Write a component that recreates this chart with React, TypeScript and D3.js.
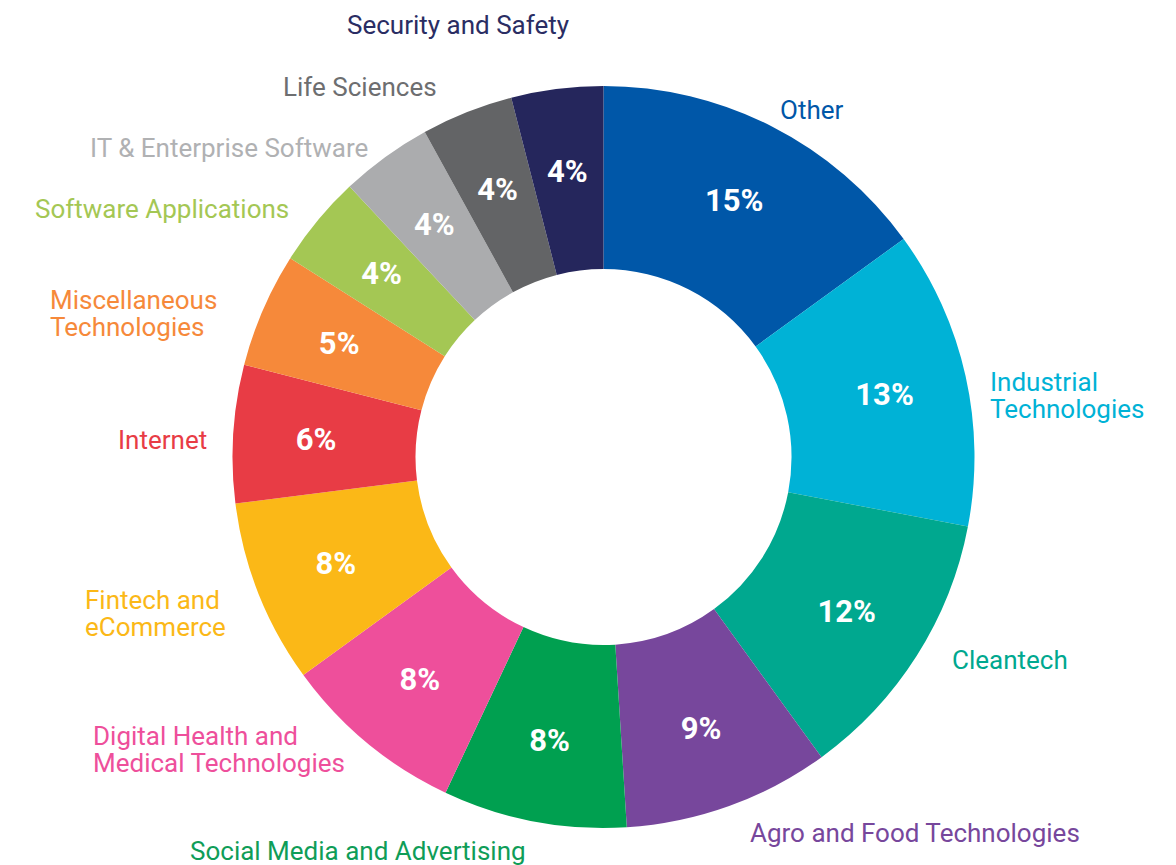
import React, { useEffect, useRef } from 'react'
import * as d3 from 'd3'

const categories = [
  'Other',
  'Industrial Technologies',
  'Cleantech',
  'Agro and Food Technologies',
  'Social Media and Advertising',
  'Digital Health and Medical Technologies',
  'Fintech and eCommerce',
  'Internet',
  'Miscellaneous Technologies',
  'Software Applications',
  'IT & Enterprise Software',
  'Life Sciences',
  'Security and Safety',
]
const shares = [15, 13, 12, 9, 8, 8, 8, 6, 5, 4, 4, 4, 4]
const pctLabels = ['15%', '13%', '12%', '9%', '8%', '8%', '8%', '6%', '5%', '4%', '4%', '4%', '4%']
const labelLines = [
  ['Other'],
  ['Industrial', 'Technologies'],
  ['Cleantech'],
  ['Agro and Food Technologies'],
  ['Social Media and Advertising'],
  ['Digital Health and', 'Medical Technologies'],
  ['Fintech and', 'eCommerce'],
  ['Internet'],
  ['Miscellaneous', 'Technologies'],
  ['Software Applications'],
  ['IT & Enterprise Software'],
  ['Life Sciences'],
  ['Security and Safety'],
]
const colors = [
  '#0057a8', '#00b2d6', '#00a88f', '#77479c', '#00a050', '#ee4f9b', '#fbb817',
  '#e83c45', '#f6893a', '#a4c754', '#abacae', '#636466', '#25265c',
]
const textColors = [
  '#0057a8', '#00b2d6', '#00a88f', '#77479c', '#0f9d58', '#ee4f9b', '#fbb817',
  '#e83c45', '#f6893a', '#a4c754', '#b0b1b3', '#6d6e70', '#2a2d63',
]
// label placement (left x, first baseline)
const labelPos: [number, number][] = [
  [780, 119], [990, 391], [952, 669], [750, 842], [190, 860], [93, 745], [85, 609],
  [118, 449], [50, 309], [35, 218], [90, 157], [283, 96], [347, 34],
]

export default function App() {
  const ref = useRef<SVGSVGElement>(null)

  useEffect(() => {
    const svg = d3.select(ref.current)
    svg.selectAll('*').remove()

    const width = 1176, height = 865
    const cx = 603.5, cy = 457
    const outerR = 371, innerR = 188

    const pie = d3.pie<number>().sort(null).value(d => d)
    const arcs = pie(shares)
    const arc = d3.arc<d3.PieArcDatum<number>>().innerRadius(innerR).outerRadius(outerR)
    const labelArc = d3.arc<d3.PieArcDatum<number>>().innerRadius(288).outerRadius(288)

    svg.attr('width', width).attr('height', height)

    const g = svg.append('g').attr('transform', `translate(${cx},${cy})`)
    g.selectAll('path')
      .data(arcs)
      .join('path')
      .attr('d', arc)
      .attr('fill', (d, i) => colors[i])

    g.selectAll('text.pct')
      .data(arcs)
      .join('text')
      .attr('class', 'pct')
      .attr('x', d => labelArc.centroid(d)[0])
      .attr('y', d => labelArc.centroid(d)[1] + 11)
      .attr('text-anchor', 'middle')
      .attr('fill', '#fff')
      .attr('font-family', 'Roboto, sans-serif')
      .attr('font-weight', 700)
      .attr('font-size', 31)
      .text((d, i) => pctLabels[i])

    // category labels, one text per line
    const lab = svg.append('g')
      .attr('font-family', 'Roboto, sans-serif')
      .attr('font-size', 26)
    categories.forEach((c, i) => {
      labelLines[i].forEach((line, j) => {
        lab.append('text')
          .attr('x', labelPos[i][0])
          .attr('y', labelPos[i][1] + j * 27)
          .attr('fill', textColors[i])
          .text(line)
      })
    })
  }, [])

  return (
    <div style={{ position: 'absolute', left: 0, top: 0 }}>
      <svg ref={ref} style={{ display: 'block' }}></svg>
    </div>
  )
}
